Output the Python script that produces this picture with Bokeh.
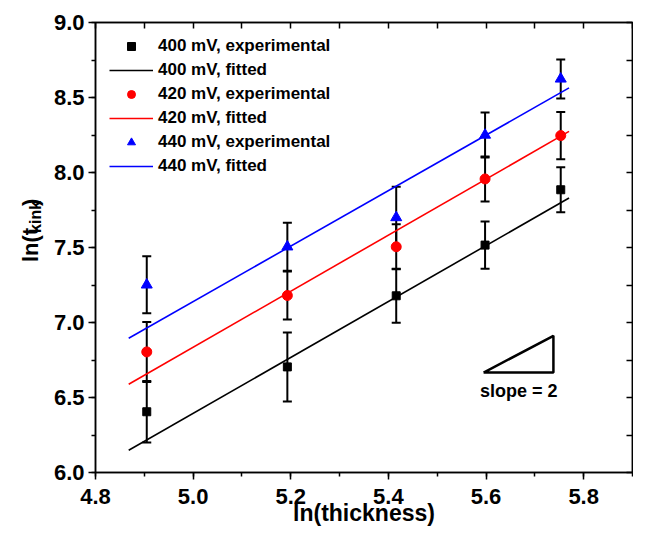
from bokeh.plotting import figure
from bokeh.layouts import row
from bokeh.models import (ColumnDataSource, Whisker, TeeHead, Legend, LegendItem,
                          LinearAxis, SingleIntervalTicker, Range1d, NumeralTickFormatter)
from bokeh.core.properties import value
from bokeh.embed import file_html
from bokeh.resources import INLINE
import math

# ---------------- data ----------------
X = [4.905, 5.193, 5.416, 5.598, 5.753]          # ln(thickness)
Y400 = [6.405, 6.704, 7.178, 7.516, 7.885]
E400 = [0.205, 0.230, 0.180, 0.158, 0.150]
Y420 = [6.804, 7.180, 7.505, 7.957, 8.246]
E420 = [0.200, 0.160, 0.150, 0.150, 0.158]
Y440 = [7.251, 7.505, 7.700, 8.250, 8.624]
E440 = [0.190, 0.160, 0.205, 0.150, 0.130]

FIT_X = [4.868, 5.770]
FIT400 = [6.148, 7.830]
FIT420 = [6.588, 8.274]
FIT440 = [6.895, 8.564]

SLOPE_TRI_X = [5.595, 5.738, 5.738, 5.595]
SLOPE_TRI_Y = [6.666, 6.911, 6.666, 6.666]
SLOPE_TEXT_X = [5.667]
SLOPE_TEXT_Y = [6.543]
SLOPE_TEXT = ["slope = 2"]

LABELS = ["400 mV", "420 mV", "440 mV"]
COLORS = ["#000000", "#ff0000", "#0000ff"]
MARKERS = ["square", "circle", "triangle"]
SIZES = [8, 10, 11]

YLABEL_MAIN = "ln(t"
YLABEL_SUB = "kink"
YLABEL_END = ")"

FONT = "Liberation Sans"
W_TOTAL, H_TOTAL = 633, 533
W_LAB = 50          # strip that carries the rotated y-axis title

# ---------------- main plot ----------------
p = figure(width=W_TOTAL - W_LAB, height=H_TOTAL,
           x_range=Range1d(4.8, 5.9), y_range=Range1d(6.0, 9.0),
           output_backend="svg", toolbar_location=None,
           min_border_left=95 - W_LAB, min_border_right=1, min_border_top=22, min_border_bottom=61)
p.xgrid.visible = False
p.ygrid.visible = False
p.outline_line_color = "black"
p.outline_line_width = 1.5
p.background_fill_color = "white"
p.border_fill_color = "white"

xa = p.xaxis[0]
ya = p.yaxis[0]
xa.ticker = SingleIntervalTicker(interval=0.2, num_minor_ticks=2)
ya.ticker = SingleIntervalTicker(interval=0.5, num_minor_ticks=2)
for ax in (xa, ya):
    ax.formatter = NumeralTickFormatter(format="0.0")
    ax.axis_line_width = 1.5
    ax.major_tick_line_width = 1.5
    ax.minor_tick_line_width = 1.5
    ax.major_tick_in = 0
    ax.minor_tick_in = 0
    ax.major_tick_out = 7
    ax.minor_tick_out = 4
    ax.major_label_text_font = FONT
    ax.major_label_text_font_style = "bold"
    ax.major_label_text_font_size = "22px"
    ax.major_label_text_color = "black"
xa.major_label_standoff = 9
ya.major_label_standoff = 4
xa.axis_label = "ln(thickness)"
xa.axis_label_text_font = FONT
xa.axis_label_text_font_style = "bold"
xa.axis_label_text_font_size = "23px"
xa.axis_label_text_color = "black"
xa.axis_label_standoff = -7
ya.axis_label = None

# mirrored top / right axes with inward ticks, no labels
top = LinearAxis(ticker=SingleIntervalTicker(interval=0.1, num_minor_ticks=0))
right = LinearAxis(ticker=SingleIntervalTicker(interval=0.25, num_minor_ticks=0))
for ax in (top, right):
    ax.axis_line_width = 1.5
    ax.major_tick_line_width = 1.5
    ax.major_tick_in = 6
    ax.major_tick_out = 0
    ax.minor_tick_line_color = None
    ax.major_label_text_font_size = "1px"
    ax.major_label_text_color = None
    ax.major_label_text_alpha = 0
    ax.major_label_standoff = 0
    ax.axis_label = None
p.add_layout(top, "above")
p.add_layout(right, "right")

# fitted lines
fits = [FIT400, FIT420, FIT440]
line_rs = []
for fy, c in zip(fits, COLORS):
    line_rs.append(p.line(FIT_X, fy, line_color=c, line_width=1.6))

# error bars + markers
ys = [Y400, Y420, Y440]
es = [E400, E420, E440]
marker_rs = []
for y, e, c, m, s in zip(ys, es, COLORS, MARKERS, SIZES):
    src = ColumnDataSource(dict(x=X, y=y,
                                upper=[a + b for a, b in zip(y, e)],
                                lower=[a - b for a, b in zip(y, e)]))
    w = Whisker(source=src, base="x", upper="upper", lower="lower",
                line_color="black", line_width=2,
                upper_head=TeeHead(size=9, line_width=2, line_color="black"),
                lower_head=TeeHead(size=9, line_width=2, line_color="black"))
    p.add_layout(w)
    marker_rs.append(p.scatter("x", "y", source=src, marker=m, size=s,
                               fill_color=c, line_color=c, line_width=1))

# slope triangle
p.line(SLOPE_TRI_X, SLOPE_TRI_Y, line_color="black", line_width=2.5)
p.text(SLOPE_TEXT_X, SLOPE_TEXT_Y, text=SLOPE_TEXT, text_font=value(FONT),
       text_font_style="bold", text_font_size="18px", text_align="center",
       text_baseline="middle", text_color="black")

# legend
items = []
for i, lab in enumerate(LABELS):
    items.append(LegendItem(label=lab + ", experimental", renderers=[marker_rs[i]]))
    items.append(LegendItem(label=lab + ", fitted", renderers=[line_rs[i]]))
leg = Legend(items=items, location="top_left", margin=0, padding=14,
             glyph_width=44, glyph_height=20, label_height=20, label_standoff=5,
             spacing=4, border_line_alpha=0, background_fill_alpha=0,
             label_text_font=FONT, label_text_font_style="bold",
             label_text_font_size="17px", label_text_color="black")
p.add_layout(leg)

# ---------------- strip with the rotated y-axis title ln(t_kink) ----------------
q = figure(width=W_LAB, height=H_TOTAL, x_range=Range1d(0, W_LAB), y_range=Range1d(0, H_TOTAL),
           output_backend="svg", toolbar_location=None,
           x_axis_location=None, y_axis_location=None,
           min_border=0, min_border_left=0, min_border_right=0,
           min_border_top=0, min_border_bottom=0)
q.xgrid.visible = False
q.ygrid.visible = False
q.outline_line_color = None
q.background_fill_color = "white"
q.border_fill_color = "white"

# pixel layout of the title inside the strip (y measured from the bottom)
mid = H_TOTAL - 246.7          # vertical centre of the plot frame
main_w = 34.5                  # widths of the pieces at their font sizes
sub_w = 32.0
end_w = 7.6
start = mid - (main_w + sub_w + end_w) / 2
rot = math.pi / 2
q.text([30], [start], text=[YLABEL_MAIN], angle=rot, text_font=value(FONT),
       text_font_style="bold", text_font_size="22px", text_align="left",
       text_baseline="alphabetic", text_color="black")
q.text([35], [start + main_w], text=[YLABEL_SUB], angle=rot, text_font=value(FONT),
       text_font_style="bold", text_font_size="16px", text_align="left",
       text_baseline="alphabetic", text_color="black")
q.text([30], [start + main_w + sub_w], text=[YLABEL_END], angle=rot, text_font=value(FONT),
       text_font_style="bold", text_font_size="22px", text_align="left",
       text_baseline="alphabetic", text_color="black")

layout = row(q, p, spacing=0)
open("out.html", "w").write(file_html(layout, INLINE))
